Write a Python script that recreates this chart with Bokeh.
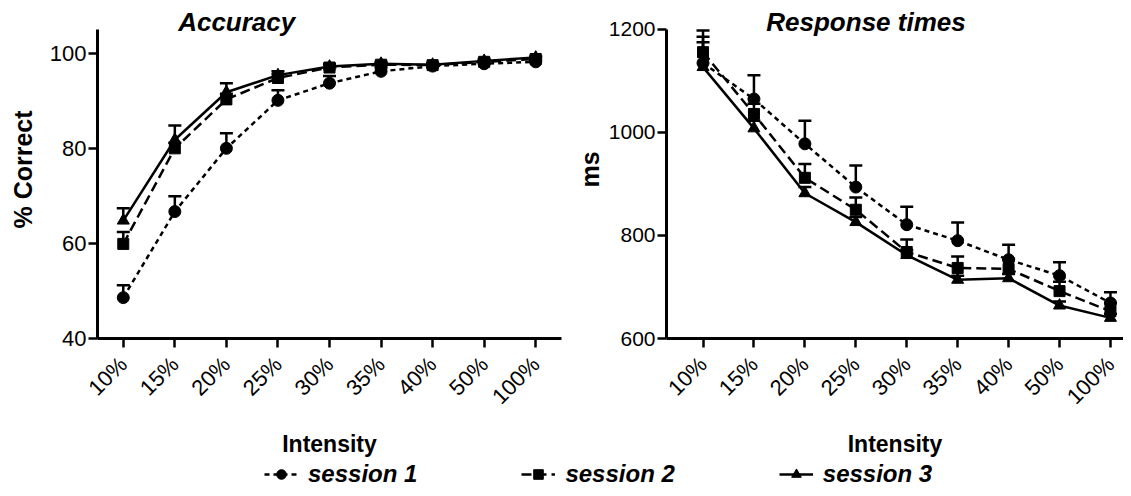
import math
from bokeh.plotting import figure
from bokeh.models import (ColumnDataSource, Range1d, FixedTicker, Whisker, TeeHead,
                          Label, Legend, LegendItem)
from bokeh.layouts import column, row
from bokeh.embed import file_html
from bokeh.resources import INLINE

# ---------------- data ----------------
intensity = ["10%", "15%", "20%", "25%", "30%", "35%", "40%", "50%", "100%"]
sessions = ["session 1", "session 2", "session 3"]

acc_s1 = [48.6, 66.7, 80.0, 90.1, 93.7, 96.2, 97.3, 97.8, 98.2]
acc_s1_sem = [2.6, 3.2, 3.2, 2.1, 1.5, 0.8, 0.5, 0.5, 0.4]
acc_s2 = [59.9, 80.0, 90.3, 94.8, 97.0, 97.6, 97.5, 98.2, 98.8]
acc_s2_sem = [2.5, 1.2, 1.2, 0.8, 0.6, 0.4, 0.4, 0.4, 0.3]
acc_s3 = [64.8, 81.8, 91.8, 95.4, 97.2, 97.8, 97.6, 98.4, 99.1]
acc_s3_sem = [2.6, 3.0, 1.9, 0.8, 0.6, 0.4, 0.4, 0.4, 0.3]

rt_s1 = [1135, 1065, 978, 894, 821, 790, 753, 722, 669]
rt_s1_sem = [51, 46, 45, 42, 35, 35, 29, 26, 21]
rt_s2 = [1156, 1036, 912, 850, 768, 737, 735, 692, 653]
rt_s2_sem = [42, 20, 27, 24, 24, 22, 20, 18, 16]
rt_s3 = [1127, 1008, 882, 826, 762, 714, 717, 664, 640]
rt_s3_sem = [48, 15, 12, 10, 10, 8, 8, 8, 8]

acc_ticks = [40, 60, 80, 100]
rt_ticks = [600, 800, 1000, 1200]

# ---------------- styles ----------------
FONT = "Liberation Sans"
DASH = {"session 1": "5 4", "session 2": "10 5", "session 3": "solid"}
MARKER = {"session 1": "circle", "session 2": "square", "session 3": "triangle"}
MSIZE = {"session 1": 12, "session 2": 11, "session 3": 12}
LW = 2.5
PH = 459          # panel height
LH = 29           # legend strip height
FRAME_BOTTOM = 338

xpos = list(range(len(intensity)))


def panel(width, mbl, mbr, xr, yr, ybounds, yticks, ylabel, ylabel_standoff, ytick_size,
          title, title_x, title_y, means, sems):
    p = figure(width=width, height=PH, x_range=Range1d(*xr), y_range=Range1d(*yr),
               output_backend="svg", toolbar_location=None,
               min_border_left=mbl, min_border_right=mbr,
               min_border_top=0, min_border_bottom=PH - FRAME_BOTTOM)
    p.outline_line_color = None
    p.grid.visible = False
    p.background_fill_color = "white"
    p.border_fill_color = "white"

    for ax in (p.xaxis[0], p.yaxis[0]):
        ax.axis_line_width = 3
        ax.axis_line_color = "black"
        ax.major_tick_line_width = 2.5
        ax.major_tick_line_color = "black"
        ax.major_tick_out = 9
        ax.major_tick_in = 0
        ax.minor_tick_line_color = None
        ax.major_label_text_font = FONT
        ax.major_label_text_color = "black"
        ax.axis_label_text_font = FONT
        ax.axis_label_text_font_style = "bold"
        ax.axis_label_text_color = "black"

    xa = p.xaxis[0]
    xa.ticker = FixedTicker(ticks=xpos)
    xa.major_label_overrides = {i: lab for i, lab in enumerate(intensity)}
    xa.major_label_orientation = math.pi / 4
    xa.major_label_text_font_size = "22px"
    xa.major_label_standoff = 13
    xa.axis_label = "Intensity"
    xa.axis_label_text_font_size = "23px"
    xa.axis_label_standoff = 10

    ya = p.yaxis[0]
    ya.bounds = ybounds
    ya.ticker = FixedTicker(ticks=yticks)
    ya.major_label_text_font_size = ytick_size
    ya.major_label_standoff = 2
    ya.axis_label = ylabel
    ya.axis_label_text_font_size = "25px"
    ya.axis_label_standoff = ylabel_standoff

    for s, m, e in zip(sessions, means, sems):
        src = ColumnDataSource(dict(x=xpos, y=m, upper=[a + b for a, b in zip(m, e)]))
        w = Whisker(base="x", lower="y", upper="upper", source=src,
                    line_width=LW, line_color="black", lower_head=None,
                    upper_head=TeeHead(size=13, line_width=LW, line_color="black"))
        p.add_layout(w)
        p.line("x", "y", source=src, line_color="black", line_width=LW, line_dash=DASH[s])
        p.scatter("x", "y", source=src, marker=MARKER[s], size=MSIZE[s],
                  fill_color="black", line_color="black")

    p.add_layout(Label(x=title_x, y=title_y, text=title, text_font=FONT,
                       text_font_size="26px", text_font_style="bold italic",
                       text_align="center", text_baseline="middle", text_color="black"))
    return p


# left: frame x 97..561, y 0..338 (40 at 338, 4.754 px/unit)
p1 = panel(572, 97, 11, (-0.5, 8.5), (40, 111.1), (40, 105), acc_ticks, "% Correct", 10,
           "22px", "Accuracy", 2.2, 106.5, [acc_s1, acc_s2, acc_s3],
           [acc_s1_sem, acc_s2_sem, acc_s3_sem])
# right: frame x 660..1123, 0.515 px/ms
p2 = panel(551, 88, 0, (-0.717, 8.256), (600, 1256.3), (600, 1200), rt_ticks, "ms", 2,
           "21px", "Response times", 3.2, 1213.6, [rt_s1, rt_s2, rt_s3],
           [rt_s1_sem, rt_s2_sem, rt_s3_sem])

# ---------------- legend strip ----------------
leg = figure(width=1123, height=LH, x_range=Range1d(0, 1), y_range=Range1d(-1000, -999),
             output_backend="svg", toolbar_location=None, min_border=0,
             x_axis_type=None, y_axis_type=None)
leg.outline_line_color = None
leg.grid.visible = False
items = []
for s, m in zip(sessions, [acc_s1, acc_s2, acc_s3]):
    l = leg.line(xpos, m, line_color="black", line_width=LW, line_dash=DASH[s])
    sc = leg.scatter(xpos, m, marker=MARKER[s], size=MSIZE[s], fill_color="black",
                     line_color="black")
    items.append(LegendItem(label=s, renderers=[l, sc]))
legend = Legend(items=items, orientation="horizontal", location=(264, 0),
                border_line_color=None, background_fill_alpha=0,
                padding=0, margin=0, spacing=104, glyph_width=34, glyph_height=24,
                label_standoff=10, label_text_font=FONT, label_text_font_size="24px",
                label_text_font_style="bold italic", label_text_color="black")
leg.add_layout(legend)

layout = column(row(p1, p2), leg)
open("out.html", "w").write(file_html(layout, INLINE))
